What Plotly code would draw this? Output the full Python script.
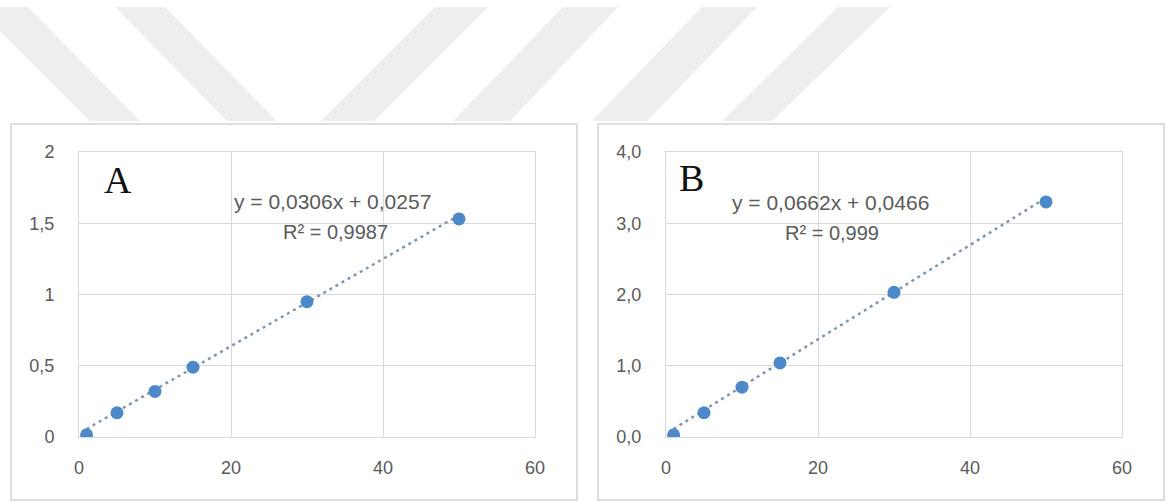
import plotly.graph_objects as go

# ---- data -------------------------------------------------------------
conc = [1, 5, 10, 15, 30, 50]

abs_a = [0.015, 0.17, 0.32, 0.49, 0.95, 1.53]
abs_b = [0.03, 0.34, 0.70, 1.04, 2.03, 3.30]

slope_a, intercept_a, r2_a = 0.0306, 0.0257, "0,9987"
slope_b, intercept_b, r2_b = 0.0662, 0.0466, "0,999"

x_ticks = [0, 20, 40, 60]
x_ticklabels = ["0", "20", "40", "60"]
y_ticks_a = [0, 0.5, 1, 1.5, 2]
y_ticklabels_a = ["0", "0,5", "1", "1,5", "2"]
y_ticks_b = [0, 1, 2, 3, 4]
y_ticklabels_b = ["0,0", "1,0", "2,0", "3,0", "4,0"]

# ---- page geometry (pixels) --------------------------------------------
W, H = 1173, 502


def px(x):
    return x / W


def py(y):
    return 1 - y / H


def fmt(v):
    return f"{v:.4f}".replace(".", ",")


GRID = "#d9d9d9"
TXT = "#5a5a5a"
DOT = "#4d88c9"
TREND = "#8096b0"

fig = go.Figure()

panels = [
    dict(name="A", y=abs_a, m=slope_a, b=intercept_a, r2=r2_a,
         xd=(79, 535), yticks=y_ticks_a, ylabels=y_ticklabels_a, yr=[0, 2],
         xa="x", ya="y", letter_xy=(118, 180), eq_xy=(332, 201), r2_xy=(335, 232),
         box=(11, 124, 577, 500)),
    dict(name="B", y=abs_b, m=slope_b, b=intercept_b, r2=r2_b,
         xd=(666, 1122), yticks=y_ticks_b, ylabels=y_ticklabels_b, yr=[0, 4],
         xa="x2", ya="y2", letter_xy=(691, 178), eq_xy=(830, 202), r2_xy=(832, 233),
         box=(598, 124, 1164, 500)),
]

annotations = []
shapes = []

for i, p in enumerate(panels):
    # linear trendline from the stated fit, across the measured range
    tx = [min(conc), max(conc)]
    ty = [p["m"] * v + p["b"] for v in tx]
    fig.add_trace(go.Scatter(x=tx, y=ty, mode="lines", xaxis=p["xa"], yaxis=p["ya"],
                             line=dict(color=TREND, width=2.5, dash="3px,4px"),
                             hoverinfo="skip", showlegend=False))
    fig.add_trace(go.Scatter(x=conc, y=p["y"], mode="markers", xaxis=p["xa"], yaxis=p["ya"],
                             marker=dict(color=DOT, size=13, line=dict(width=0)),
                             showlegend=False))

    axis_common = dict(showgrid=True, gridcolor=GRID, gridwidth=1, zeroline=False,
                       showline=True, linecolor=GRID, linewidth=1, mirror=True,
                       automargin=False,
                       ticks="", tickfont=dict(family="Liberation Sans", size=18, color=TXT))
    xkey = "xaxis" if i == 0 else "xaxis2"
    ykey = "yaxis" if i == 0 else "yaxis2"
    fig.update_layout(**{
        xkey: dict(axis_common, domain=[px(p["xd"][0]), px(p["xd"][1])], range=[0, 60],
                   tickvals=x_ticks, ticktext=x_ticklabels, anchor=p["ya"],
                   ticklabelstandoff=14),
        ykey: dict(axis_common, domain=[py(437), py(152)], range=p["yr"],
                   tickvals=p["yticks"], ticktext=p["ylabels"], anchor=p["xa"],
                   ticklabelstandoff=20),
    })

    lx, ly = p["letter_xy"]
    annotations.append(dict(text=p["name"], x=px(lx), y=py(ly), xref="paper", yref="paper",
                            showarrow=False, xanchor="center", yanchor="middle",
                            font=dict(family="Liberation Serif", size=38, color="#111111")))
    ex, ey = p["eq_xy"]
    annotations.append(dict(text=f"y = {fmt(p['m'])}x + {fmt(p['b'])}",
                            x=px(ex), y=py(ey), xref="paper", yref="paper",
                            showarrow=False, xanchor="center", yanchor="middle",
                            font=dict(family="Liberation Sans", size=21, color=TXT)))
    rx, ry = p["r2_xy"]
    annotations.append(dict(text=f"R² = {p['r2']}", x=px(rx), y=py(ry),
                            xref="paper", yref="paper", showarrow=False,
                            xanchor="center", yanchor="middle",
                            font=dict(family="Liberation Sans", size=20, color=TXT)))

    x0, y0, x1, y1 = p["box"]
    shapes.append(dict(type="rect", xref="paper", yref="paper",
                       x0=px(x0), x1=px(x1), y0=py(y1), y1=py(y0),
                       line=dict(color="#d4d4d4", width=1.5), fillcolor="rgba(0,0,0,0)",
                       layer="below"))

# light diagonal band decoration along the top of the page
bands = [(-24, 28, 90, 140), (115, 165, 227, 277), (435, 488, 321, 374),
         (563, 618, 453, 510), (702, 757, 592, 647), (838, 890, 722, 772)]
top_y, bot_y = 7, 121
for tl, tr, bl, br in bands:
    path = (f"M {px(tl)},{py(top_y)} L {px(tr)},{py(top_y)} "
            f"L {px(br)},{py(bot_y)} L {px(bl)},{py(bot_y)} Z")
    shapes.append(dict(type="path", path=path, xref="paper", yref="paper",
                       fillcolor="#eeeeee", line=dict(width=0), layer="below"))

fig.update_layout(width=W, height=H, margin=dict(l=0, r=0, t=0, b=0, pad=0),
                  autosize=False,
                  paper_bgcolor="white", plot_bgcolor="white",
                  annotations=annotations, shapes=shapes, showlegend=False)

fig.write_html("out.html")
